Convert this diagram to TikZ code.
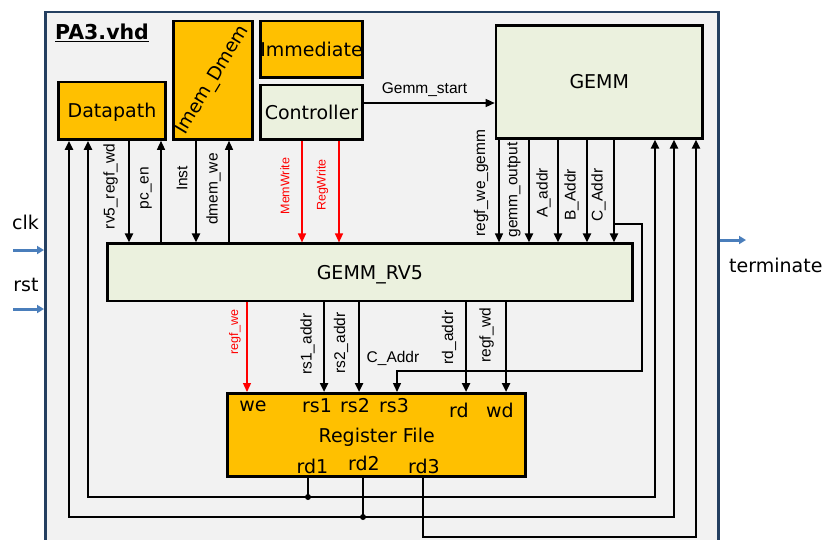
\documentclass[tikz,border=0pt]{standalone}
\usepackage{fontspec}
\setmainfont{DejaVu Sans}
\newfontfamily\arialfont{Liberation Sans}
\usetikzlibrary{arrows.meta,positioning}

\definecolor{blkorange}{HTML}{FFC000}
\definecolor{blkgreen}{HTML}{EBF1DE}
\definecolor{panelgray}{HTML}{F2F2F2}
\definecolor{panelnavy}{HTML}{243F60}
\definecolor{pinblue}{HTML}{4A7EBB}

\tikzset{
  blk/.style={draw, line width=2.6pt, inner sep=0pt, text height=14pt, text depth=0pt,
    font=\fontsize{19}{22}\selectfont},
  memblk/.style={blk, fill=blkorange},
  ctlblk/.style={blk, fill=blkgreen},
  tip/.style={-{Triangle[length=9pt,width=8pt]}},
  bothtip/.style={{Triangle[length=9pt,width=8pt]}-{Triangle[length=9pt,width=8pt]}},
  wthin/.style={line width=1.4pt},
  wmid/.style={line width=2pt},
  wbus/.style={line width=2.6pt},
  wred/.style={line width=1.3pt, red},
  vlbl/.style={font=\arialfont\fontsize{15.5}{17}\selectfont, rotate=90, inner sep=0pt},
  redlbl/.style={vlbl, red, font=\arialfont\fontsize{12.5}{14}\selectfont},
  port/.style={font=\fontsize{19}{22}\selectfont, anchor=base, inner sep=0pt},
  pin/.style={line width=3pt, pinblue, -{Triangle[length=7pt,width=8pt]}},
}

\begin{document}
\begin{tikzpicture}[x=1pt, y=-1pt]
  \useasboundingbox (0,0) rectangle (832,539);
  \clip (0,0) rectangle (832,539);

  % top level entity
  \node[draw=panelnavy, fill=panelgray, line width=2.7pt, minimum width=673pt, minimum height=560pt,
    anchor=north west, inner sep=0pt] (pa3) at (44,10.7) {};
  \node[font=\bfseries\fontsize{20.5}{24}\selectfont, anchor=base west, inner sep=0pt] (title)
    at (55,39.5) {\underline{PA3.vhd}};

  % components
  \node[memblk, minimum width=107pt, minimum height=57.5pt] (dp) at (112,110.75) {Datapath};
  \node[memblk, minimum width=79pt, minimum height=118.5pt, text height=, text depth=,
    font=\fontsize{18.5}{21}\selectfont] (imem) at (213,80.25) {\rotatebox{59}{Imem\_Dmem}};
  \node[memblk, minimum width=102pt, minimum height=56.5pt] (imm) at (311.5,49.25) {Immediate};
  \node[ctlblk, minimum width=102pt, minimum height=54.5pt] (ctrl) at (311.5,112.25) {Controller};
  \node[ctlblk, minimum width=206.5pt, minimum height=113pt] (gemm) at (599.25,81.9) {GEMM};
  \node[ctlblk, minimum width=524.8pt, minimum height=57.3pt] (rv5) at (369.9,272.35) {GEMM\_RV5};
  \node[memblk, minimum width=298pt, minimum height=83.4pt] (rf) at (376.7,435) {Register File};

  % register file ports
  \node[port] (we) at (253,411) {we};
  \node[port] (rs1) at (317,412) {rs1};
  \node[port] (rs2) at (355,412) {rs2};
  \node[port] (rs3) at (394,412) {rs3};
  \node[port] (rd) at (459,417) {rd};
  \node[port] (wd) at (500,417) {wd};
  \node[port] (rd1) at (312.5,473) {rd1};
  \node[port] (rd2) at (364,470) {rd2};
  \node[port] (rd3) at (424,473) {rd3};

  % ports of PA3
  \node[font=\fontsize{19}{22}\selectfont, inner sep=0pt] (clk) at (25.5,222) {clk};
  \node[font=\fontsize{19}{22}\selectfont, inner sep=0pt] (rst) at (26,285) {rst};
  \node[font=\fontsize{19}{22}\selectfont, inner sep=0pt, anchor=west] (term) at (729,265) {terminate};
  \coordinate (clkin) at (13,250);
  \coordinate (rstin) at (13,309);
  \coordinate (termout) at (746,240);
  \draw[pin] (clkin) -- (pa3.west |- clkin);
  \draw[pin] (rstin) -- (pa3.west |- rstin);
  \draw[pin] (pa3.east |- termout) -- (termout);

  % datapath / memory <-> GEMM_RV5
  \draw[wbus, tip] (dp.south -| 129,0) -- (rv5.north -| 129,0);
  \draw[wthin, tip] (rv5.north -| 161,0) -- (dp.south -| 161,0);
  \draw[wbus, tip] (imem.south -| 196,0) -- (rv5.north -| 196,0);
  \draw[wthin, tip] (rv5.north -| 229,0) -- (imem.south -| 229,0);
  \draw[wred, tip] (ctrl.south -| 302,0) -- (rv5.north -| 302,0);
  \draw[wred, tip] (ctrl.south -| 339,0) -- (rv5.north -| 339,0);
  \node[vlbl] at (110.5,186.5) {rv5\_regf\_wd};
  \node[vlbl] at (146,188) {pc\_en};
  \node[vlbl] at (182,178.5) {Inst};
  \node[vlbl] at (213.5,189) {dmem\_we};
  \node[redlbl] at (285,186) {MemWrite};
  \node[redlbl] at (322.5,185) {RegWrite};

  % controller -> GEMM
  \draw[wthin, tip] (ctrl.east |- 0,103) -- (gemm.west |- 0,103);
  \node[font=\arialfont\fontsize{15.5}{17}\selectfont, anchor=base, inner sep=0pt] at (424.5,93) {Gemm\_start};

  % GEMM -> GEMM_RV5
  \draw[wthin, tip] (gemm.south -| 499,0) -- (rv5.north -| 499,0);
  \draw[wbus, tip] (gemm.south -| 529,0) -- (rv5.north -| 529,0);
  \draw[wmid, tip] (gemm.south -| 558,0) -- (rv5.north -| 558,0);
  \draw[wmid, tip] (gemm.south -| 587,0) -- (rv5.north -| 587,0);
  \draw[wmid, tip] (gemm.south -| 614,0) -- (rv5.north -| 614,0);
  \node[vlbl] at (481,183) {regf\_we\_gemm};
  \node[vlbl] at (514,190) {gemm\_output};
  \node[vlbl] at (543.5,193) {A\_addr};
  \node[vlbl] at (571.5,195) {B\_Addr};
  \node[vlbl] at (598.5,195) {C\_Addr};

  % C_Addr branch to rs3
  \coordinate (cbr) at (614,224);
  \draw[wthin, tip] (cbr) -| (642,371) -| (rf.north -| 397,0);
  \node[font=\arialfont\fontsize{15.5}{17}\selectfont, inner sep=0pt] at (393,358) {C\_Addr};

  % GEMM_RV5 -> register file
  \draw[wred, tip] (rv5.south -| 247,0) -- (rf.north -| 247,0);
  \draw[wbus, tip] (rv5.south -| 324,0) -- (rf.north -| 324,0);
  \draw[wbus, tip] (rv5.south -| 359,0) -- (rf.north -| 359,0);
  \draw[wbus, tip] (rv5.south -| 466,0) -- (rf.north -| 466,0);
  \draw[wbus, tip] (rv5.south -| 506,0) -- (rf.north -| 506,0);
  \node[redlbl] at (235,332) {regf\_we};
  \node[vlbl] at (307.5,344) {rs1\_addr};
  \node[vlbl] at (341,343) {rs2\_addr};
  \node[vlbl] at (449,337.5) {rd\_addr};
  \node[vlbl] at (486.5,335) {regf\_wd};

  % read ports back to datapath and GEMM
  \coordinate (j1) at (308,497);
  \coordinate (j2) at (363,517);
  \coordinate (j3) at (423,537);
  \draw[wbus, bothtip] (dp.south -| 88,0) |- (j1) -| (gemm.south -| 655,0);
  \draw[wbus, bothtip] (dp.south -| 69,0) |- (j2) -| (gemm.south -| 674,0);
  \draw[wbus] (rf.south -| j1) -- (j1);
  \draw[wbus] (rf.south -| j2) -- (j2);
  \draw[wbus, tip] (rf.south -| j3) -- (j3) -| (gemm.south -| 696,0);
  \fill (j1) circle (3pt);
  \fill (j2) circle (3pt);
\end{tikzpicture}
\end{document}
